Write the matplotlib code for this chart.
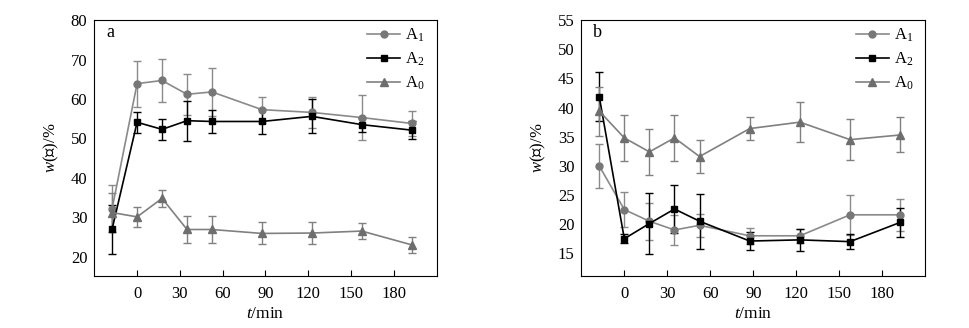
import matplotlib.pyplot as plt
from matplotlib.lines import Line2D

plt.rcParams['font.family'] = ['Liberation Serif', 'Noto Sans CJK SC']
plt.rcParams['mathtext.fontset'] = 'custom'
plt.rcParams['mathtext.rm'] = 'Liberation Serif'
plt.rcParams['mathtext.it'] = 'Liberation Serif:italic'

t = [-17.5, 0, 17.5, 35, 52.5, 87.5, 122.5, 157.5, 192.5]
xticks = [0, 30, 60, 90, 120, 150, 180]

# panel a: water
a_A1 = [32.2, 63.9, 64.7, 61.2, 61.8, 57.3, 56.6, 55.3, 53.8]
a_A1_err = [6.0, 5.8, 5.5, 5.2, 6.0, 3.3, 3.9, 5.8, 3.2]
a_A2 = [27.0, 54.1, 52.3, 54.5, 54.3, 54.3, 55.6, 53.5, 52.1]
a_A2_err = [6.2, 2.6, 2.6, 5.1, 3.0, 3.1, 4.3, 1.8, 2.2]
a_A0 = [31.2, 30.1, 34.8, 26.9, 26.9, 25.9, 26.0, 26.5, 23.0]
a_A0_err = [5.0, 2.6, 2.2, 3.4, 3.4, 2.8, 2.8, 2.1, 2.1]

# panel b: oil
b_A1 = [30.0, 22.5, 20.5, 19.0, 19.8, 18.0, 18.0, 21.6, 21.6]
b_A1_err = [3.8, 3.0, 3.2, 2.5, 2.0, 1.4, 1.2, 3.4, 2.7]
b_A2 = [41.9, 17.5, 20.1, 22.6, 20.5, 17.1, 17.3, 17.0, 20.3]
b_A2_err = [4.2, 0.8, 5.2, 4.1, 4.7, 1.6, 1.9, 1.35, 2.5]
b_A0 = [39.4, 34.8, 32.4, 34.8, 31.6, 36.4, 37.5, 34.5, 35.3]
b_A0_err = [4.2, 4.0, 3.9, 4.0, 2.8, 1.9, 3.4, 3.5, 3.0]

fig = plt.figure(figsize=(9.7, 3.28), dpi=100)
axa = fig.add_axes([0.0972, 0.1585, 0.353, 0.780])
axb = fig.add_axes([0.5993, 0.1585, 0.3546, 0.780])

styles = [
    dict(color='#8a8a8a', mfc='#777777', mec='#777777', marker='o', ms=5),
    dict(color='black', mfc='black', mec='black', marker='s', ms=5),
    dict(color='#808080', mfc='#6e6e6e', mec='#6e6e6e', marker='^', ms=6),
]
names = ['A$_1$', 'A$_2$', 'A$_0$']


def draw(ax, series, ylim, yticks, ylabel, tag):
    for (y, e), st in zip(series, styles):
        ax.errorbar(t, y, yerr=e, lw=1.2, capsize=3, elinewidth=1, **st)
    ax.set_xlim(-30, 210)
    ax.set_ylim(*ylim)
    ax.set_xticks(xticks)
    ax.set_yticks(yticks)
    ax.tick_params(axis='x', direction='in', length=4, labelsize=12, pad=7)
    ax.tick_params(axis='y', length=0, labelsize=12, pad=5)
    ax.set_xlabel('$t$/min', fontsize=12.5, labelpad=3)
    ax.set_ylabel(ylabel, fontsize=12, labelpad=7)
    ax.text(0.035, 0.95, tag, transform=ax.transAxes, fontsize=13, va='center')
    handles = [Line2D([], [], lw=1.2, **st) for st in styles]
    ax.legend(handles, names, loc='upper right', frameon=False, fontsize=12,
              handlelength=2.0, handletextpad=0.3, labelspacing=0.4,
              borderaxespad=0.0, bbox_to_anchor=(0.985, 1.0))


draw(axa, [(a_A1, a_A1_err), (a_A2, a_A2_err), (a_A0, a_A0_err)],
     (15.1, 80), range(20, 81, 10), '$w$(水)/%', 'a')
draw(axb, [(b_A1, b_A1_err), (b_A2, b_A2_err), (b_A0, b_A0_err)],
     (11.1, 55), range(15, 56, 5), '$w$(油)/%', 'b')

fig.savefig('out.png', dpi=100)
